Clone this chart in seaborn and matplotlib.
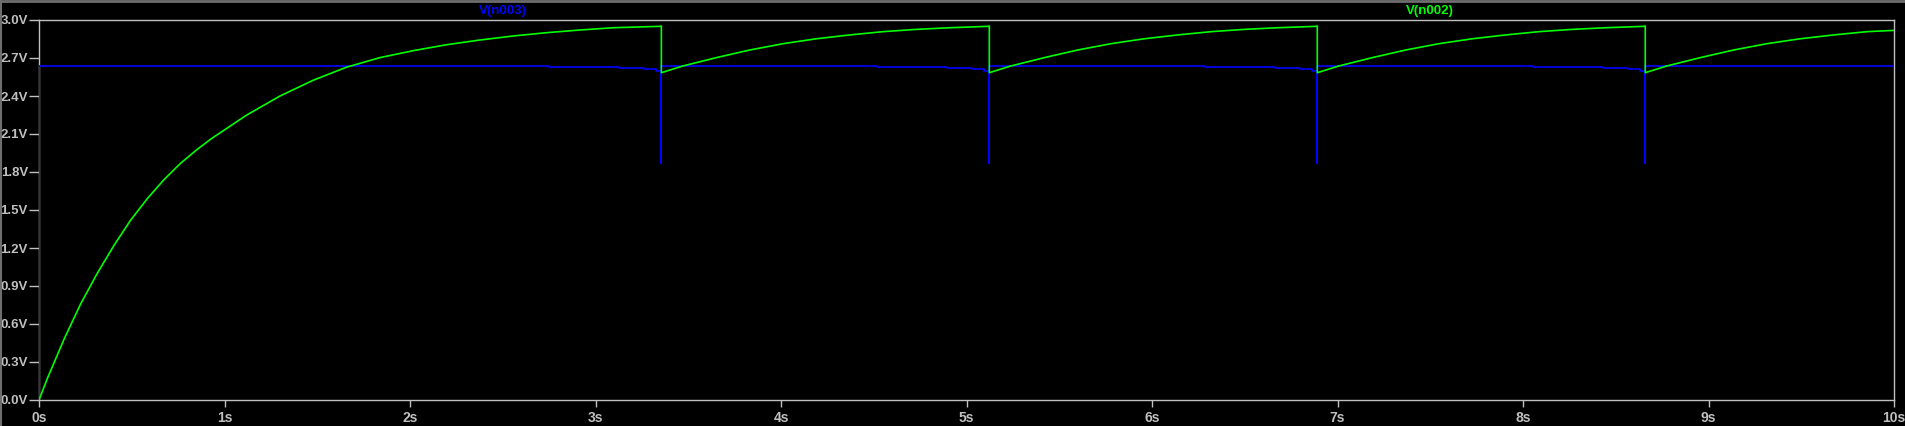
import numpy as np
import pandas as pd
import matplotlib
matplotlib.use("Agg")
import matplotlib.pyplot as plt
from matplotlib.lines import Line2D
import seaborn as sns

# V(n002): first charge from 0 V (s, V)
charge_t = [0.0, 0.045, 0.135, 0.225, 0.314, 0.404, 0.494, 0.584, 0.674, 0.764,
            0.854, 0.931, 1.120, 1.299, 1.479, 1.659, 1.838, 2.018, 2.198, 2.377,
            2.557, 2.737, 2.916, 3.096, 3.348]
charge_v = [0.0, 0.17, 0.48, 0.76, 1.00, 1.22, 1.42, 1.59, 1.74, 1.87,
            1.98, 2.065, 2.25, 2.40, 2.525, 2.628, 2.703, 2.758, 2.805, 2.842,
            2.874, 2.90, 2.921, 2.939, 2.950]

# V(n002): one recharge cycle after a discharge (time since discharge, V)
cycle_t = [0.0, 0.116, 0.297, 0.476, 0.656, 0.836, 1.015, 1.195, 1.375, 1.555, 1.762]
cycle_v = [2.584, 2.637, 2.703, 2.763, 2.813, 2.852, 2.882, 2.908, 2.926, 2.939, 2.950]
peak_v = 2.953
end_v = 2.918  # value at 10 s

# discharge instants
drop_t = [3.355, 5.123, 6.891, 8.659]

# V(n003): flat level, small sag steps before each discharge, spike minimum
blue_level = 2.634
sag_t = [-0.607, -0.23, -0.095, -0.03]   # relative to the discharge
sag_v = [2.626, 2.618, 2.610, 2.600]
spike_v = 1.87
t_end = 10.0

x_ticks = [0, 1, 2, 3, 4, 5, 6, 7, 8, 9, 10]
x_labels = [f"{t}s" for t in x_ticks]
y_ticks = [0.0, 0.3, 0.6, 0.9, 1.2, 1.5, 1.8, 2.1, 2.4, 2.7, 3.0]
y_labels = [f"{v:.1f}V" for v in y_ticks]

# build green path
gt, gv = list(charge_t), list(charge_v)
for d in drop_t:
    gt += [d, d]
    gv += [peak_v, cycle_v[0]]
    for rt, rv in zip(cycle_t[1:], cycle_v[1:]):
        if d + rt < t_end:
            gt.append(d + rt)
            gv.append(rv)
gt.append(t_end)
gv.append(end_v)
green = pd.DataFrame({"t": gt, "v": gv})

# build blue path (steps)
bt, bv = [0.0, 0.0], [0.0, blue_level]
level = blue_level
for d in drop_t + [t_end + 0.607]:
    for st, sv in zip(sag_t, sag_v):
        ts = d + st
        if ts < t_end:
            bt += [ts, ts]
            bv += [level, sv]
            level = sv
    if d < t_end:
        bt += [d, d, d]
        bv += [level, spike_v, blue_level]
        level = blue_level
bt.append(t_end)
bv.append(level)
blue = pd.DataFrame({"t": bt, "v": bv})

sns.set_theme(style="dark", rc={
    "figure.facecolor": "black",
    "axes.facecolor": "black",
    "axes.edgecolor": "#c0c0c0",
    "axes.linewidth": 1.0,
})
plt.rcParams["font.family"] = ["Liberation Sans", "DejaVu Sans"]

fig = plt.figure(figsize=(19.05, 4.26), dpi=100)
ax = fig.add_axes([39 / 1905, 26 / 426, 1855 / 1905, 380 / 426])

sns.lineplot(data=blue, x="t", y="v", ax=ax, estimator=None, sort=False,
             color="#0000ff", lw=1.2, zorder=3)
sns.lineplot(data=green, x="t", y="v", ax=ax, estimator=None, sort=False,
             color="#00ff00", lw=1.2, zorder=4)

ax.set_xlim(0, 10)
ax.set_ylim(0, 3)
ax.set_xticks(x_ticks)
ax.set_xticklabels(x_labels)
ax.set_yticks(y_ticks)
ax.set_yticklabels(y_labels)
ax.set_xlabel("")
ax.set_ylabel("")
ax.grid(False)
for s in ax.spines.values():
    s.set_visible(True)
    s.set_color("#c0c0c0")
ax.tick_params(axis="x", bottom=True, length=5, width=1, color="#c0c0c0",
               colors="#c0c0c0", labelsize=10, pad=3, direction="out")
ax.tick_params(axis="y", left=True, length=7, width=1, color="#c0c0c0",
               colors="#c0c0c0", labelsize=9.5, pad=1, direction="out")
for lab in ax.get_xticklabels() + ax.get_yticklabels():
    lab.set_fontweight("bold")

ax.text(0.25, 1.024, "V(n003)", transform=ax.transAxes, ha="center", va="center",
        color="#0000ff", fontsize=9.5, fontweight="bold")
ax.text(0.75, 1.024, "V(n002)", transform=ax.transAxes, ha="center", va="center",
        color="#00ff00", fontsize=9.5, fontweight="bold")

# window frame
fig.add_artist(Line2D([0, 1], [0.998, 0.998], transform=fig.transFigure,
                      color="#6e6e6e", lw=2))
fig.add_artist(Line2D([0.0005, 0.0005], [0, 1], transform=fig.transFigure,
                      color="#6e6e6e", lw=1.5))

fig.savefig("out.png", dpi=100, facecolor="black")
